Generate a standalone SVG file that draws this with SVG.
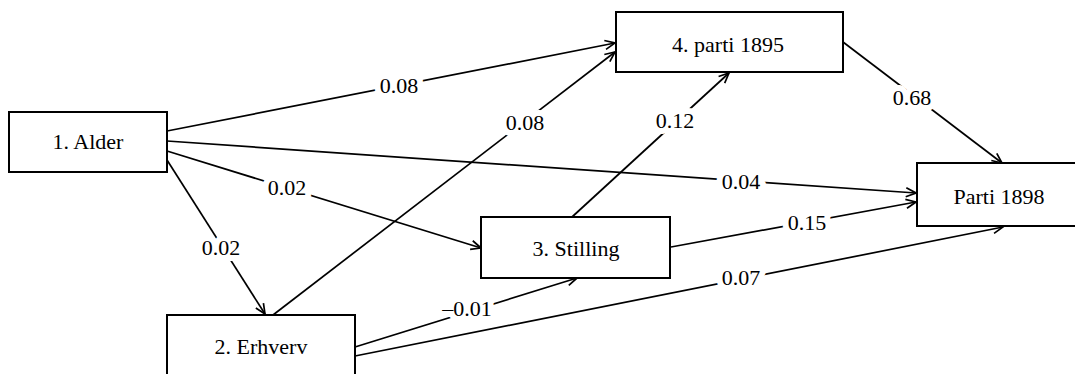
<svg xmlns="http://www.w3.org/2000/svg" width="1075" height="374" viewBox="0 0 1075 374">
<style>
.box{fill:#fff;stroke:#000;stroke-width:2}
.t{font-family:"Liberation Serif","Times New Roman",serif;font-size:22px;fill:#000;text-anchor:middle}
.e{fill:none;stroke:#000;stroke-width:1.7;marker-end:url(#arr)}
.l{font-family:"Liberation Serif","Times New Roman",serif;font-size:22px;fill:#000;text-anchor:middle;dominant-baseline:central;stroke:#fff;stroke-width:12;paint-order:stroke;stroke-linejoin:round}
</style>
<defs>
<marker id="arr" markerWidth="14" markerHeight="12" refX="0" refY="0" viewBox="-12 -6 14 12" orient="auto" markerUnits="userSpaceOnUse">
<path d="M-10,-4.5 L0,0 L-10,4.5" fill="none" stroke="#000" stroke-width="1.7"/>
</marker>
</defs>
<g id="connectors">
<path class="e" d="M167,131 L615,43"/>
<path class="e" d="M167,141 L916,193"/>
<path class="e" d="M167,151 L481,248"/>
<path class="e" d="M167,160 L265,314"/>
<path class="e" d="M273,315 L615,52"/>
<path class="e" d="M572,217 L729,73"/>
<path class="e" d="M843,42 L1002,163"/>
<path class="e" d="M671,247 L916,202"/>
<path class="e" d="M355,347 L577,278"/>
<path class="e" d="M355,356 L1003,227"/>
<text class="l" x="399" y="85">0.08</text>
<text class="l" x="741" y="181">0.04</text>
<text class="l" x="287" y="187">0.02</text>
<text class="l" x="221" y="247">0.02</text>
<text class="l" x="525" y="122">0.08</text>
<text class="l" x="675" y="120">0.12</text>
<text class="l" x="912" y="97">0.68</text>
<text class="l" x="807" y="222">0.15</text>
<text class="l" x="467" y="308">–0.01</text>
<text class="l" x="741" y="277">0.07</text>
</g>
<g id="n1"><rect class="box" x="9" y="112" width="158" height="60"/><text class="t" x="88" y="149">1. Alder</text></g>
<g id="n2"><rect class="box" x="167" y="315" width="188" height="72"/><text class="t" x="261" y="354">2. Erhverv</text></g>
<g id="n3"><rect class="box" x="481" y="217" width="189" height="61"/><text class="t" x="576" y="256">3. Stilling</text></g>
<g id="n4"><rect class="box" x="616" y="12" width="227" height="60"/><text class="t" x="728" y="52">4. parti 1895</text></g>
<g id="n5"><rect class="box" x="917" y="163" width="166" height="63"/><text class="t" x="999" y="204">Parti 1898</text></g>
</svg>
